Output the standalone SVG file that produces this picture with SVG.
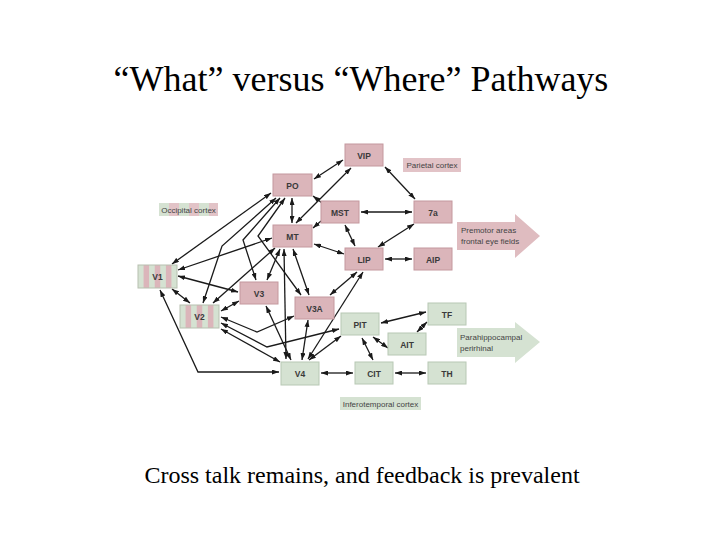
<svg xmlns="http://www.w3.org/2000/svg" width="720" height="540" viewBox="0 0 720 540">
<defs>
<style>
.pk{fill:#dbb5ba;stroke:#c4989e;stroke-width:1}
.gr{fill:#d5e2d2;stroke:#b7c8b4;stroke-width:1}
.st{fill:url(#stripes);stroke:#b7c0b0;stroke-width:1}
.nt{font-family:"Liberation Sans",Arial,sans-serif;font-size:8.5px;font-weight:bold;fill:#3a3a3a;text-anchor:middle}
.lt{font-family:"Liberation Sans",Arial,sans-serif;font-size:8px;fill:#444}
.ti{font-family:"Liberation Serif","Times New Roman",serif;fill:#000;text-anchor:middle}
#connectors path{fill:none;stroke:#1a1a1a;stroke-width:1.3}
.d{marker-start:url(#ah);marker-end:url(#ah)}
.e{marker-end:url(#ah)}
</style>
<marker id="ah" viewBox="0 0 7 5" refX="7" refY="2.5" markerWidth="7" markerHeight="5" markerUnits="userSpaceOnUse" orient="auto-start-reverse">
<path d="M0,0 L7,2.5 L0,5 z" fill="#1a1a1a"/>
</marker>
<pattern id="stripes" patternUnits="objectBoundingBox" patternContentUnits="objectBoundingBox" width="0.285714" height="1">
<rect x="0" y="0" width="0.142857" height="1" fill="#d5e2d2"/>
<rect x="0.142857" y="0" width="0.142857" height="1" fill="#dbb5ba"/>
</pattern>
<pattern id="lstripes" patternUnits="userSpaceOnUse" x="159" y="0" width="20" height="20">
<rect x="0" y="0" width="10" height="20" fill="#d5e2d2"/>
<rect x="10" y="0" width="10" height="20" fill="#e2c3c7"/>
</pattern>
</defs>
<rect width="720" height="540" fill="#fff"/>
<text class="ti" x="361" y="91" font-size="36">“What” versus “Where” Pathways</text>
<text class="ti" x="362" y="483" font-size="24">Cross talk remains, and feedback is prevalent</text>

<g id="labels">
<g id="parietal-label"><rect x="403" y="158" width="58" height="14" fill="#e2c3c7"/><text class="lt" x="432" y="168" text-anchor="middle">Parietal cortex</text></g>
<g id="occipital-label"><rect x="159" y="203" width="59" height="13" fill="url(#lstripes)"/><text class="lt" x="188.5" y="212.5" text-anchor="middle">Occipital cortex</text></g>
<g id="inferotemporal-label"><rect x="340" y="397" width="81" height="13" fill="#d5e2d2"/><text class="lt" x="380.5" y="407" text-anchor="middle">Inferotemporal cortex</text></g>
<g id="premotor"><polygon points="457,222 515,222 515,214 540,236 515,258 515,250 457,250" fill="#dfbcc0"/><text class="lt" x="461" y="233" font-size="8.5">Premotor areas</text><text class="lt" x="461" y="244" font-size="8.5">frontal eye fields</text></g>
<g id="parahippocampal"><polygon points="457,328 515,328 515,322 540,342 515,363 515,357 457,357" fill="#d5e2d2"/><text class="lt" x="460" y="340" font-size="8.5">Parahippocampal</text><text class="lt" x="460" y="351" font-size="8.5">perirhinal</text></g>
</g>

<g id="connectors">
<path class="d" d="M314,179 L343,160"/>
<path class="d" d="M296,223 L351,168"/>
<path class="d" d="M292,198 L292,223"/>
<path class="d" d="M385,167 L415,199"/>
<path class="d" d="M361,212 L412,212"/>
<path class="d" d="M345,225 L355,246"/>
<path class="d" d="M414,224 L378,247"/>
<path class="d" d="M385,259 L412,259"/>
<path class="e" d="M322,203 L313,196"/>
<path class="e" d="M321,221 L313,228"/>
<path class="d" d="M344,254 L314,244"/>
<path class="d" d="M357,272 L330,295"/>
<path class="d" d="M363,272 L308,359"/>
<path class="d" d="M172,264 L271,193"/>
<path class="d" d="M276,198 L222,246 L203,303"/>
<path class="d" d="M280,198 L243,240 L256,280"/>
<path class="d" d="M285,198 L258,236 L301,295"/>
<path class="d" d="M178,270 L272,238"/>
<path class="d" d="M275,248 L213,303"/>
<path class="d" d="M280,249 L267,280"/>
<path class="d" d="M293,249 L309,295"/>
<path class="d" d="M284,249 L286,359"/>
<path class="d" d="M178,276 L238,292"/>
<path class="d" d="M172,289 L190,303"/>
<path class="d" d="M221,311 L239,301"/>
<path class="d" d="M221,317 L257,332 L294,316"/>
<path class="d" d="M221,323 L267,347 L339,329"/>
<path class="d" d="M221,329 L280,362"/>
<path class="d" d="M160,290 L198,372 L279,372"/>
<path class="d" d="M266,306 L291,360"/>
<path class="d" d="M308,320 L302,360"/>
<path class="d" d="M341,336 L309,360"/>
<path class="d" d="M321,373 L353,373"/>
<path class="d" d="M381,323 L426,312"/>
<path class="d" d="M417,332 L427,322"/>
<path class="d" d="M373,337 L388,348"/>
<path class="d" d="M362,338 L373,360"/>
<path class="d" d="M395,373 L426,373"/>
</g>

<g id="VIP"><rect class="pk" x="345" y="144" width="38" height="22"/><text class="nt" x="364" y="158.5">VIP</text></g>
<g id="PO"><rect class="pk" x="273" y="174" width="39" height="22"/><text class="nt" x="292.5" y="188.5">PO</text></g>
<g id="MST"><rect class="pk" x="321" y="201" width="38" height="22"/><text class="nt" x="340" y="215.5">MST</text></g>
<g id="7a"><rect class="pk" x="414" y="201" width="38" height="22"/><text class="nt" x="433" y="215.5">7a</text></g>
<g id="MT"><rect class="pk" x="273" y="225" width="39" height="22"/><text class="nt" x="292.5" y="239.5">MT</text></g>
<g id="LIP"><rect class="pk" x="345" y="248" width="38" height="22"/><text class="nt" x="364" y="262.5">LIP</text></g>
<g id="AIP"><rect class="pk" x="414" y="248" width="38" height="22"/><text class="nt" x="433" y="262.5">AIP</text></g>
<g id="V1"><rect class="st" x="138" y="265" width="39" height="23"/><text class="nt" x="157.5" y="280">V1</text></g>
<g id="V3"><rect class="pk" x="240" y="282" width="38" height="22"/><text class="nt" x="259" y="296.5">V3</text></g>
<g id="V3A"><rect class="pk" x="295" y="297" width="39" height="22"/><text class="nt" x="314.5" y="311.5">V3A</text></g>
<g id="V2"><rect class="st" x="180" y="305" width="39" height="23"/><text class="nt" x="199.5" y="320">V2</text></g>
<g id="PIT"><rect class="gr" x="341" y="313" width="38" height="22"/><text class="nt" x="360" y="327.5">PIT</text></g>
<g id="TF"><rect class="gr" x="428" y="303" width="38" height="22"/><text class="nt" x="447" y="317.5">TF</text></g>
<g id="AIT"><rect class="gr" x="388" y="333" width="38" height="22"/><text class="nt" x="407" y="347.5">AIT</text></g>
<g id="V4"><rect class="gr" x="281" y="362" width="38" height="23"/><text class="nt" x="300" y="377">V4</text></g>
<g id="CIT"><rect class="gr" x="355" y="362" width="38" height="22"/><text class="nt" x="374" y="376.5">CIT</text></g>
<g id="TH"><rect class="gr" x="428" y="362" width="38" height="22"/><text class="nt" x="447" y="376.5">TH</text></g>
</svg>
